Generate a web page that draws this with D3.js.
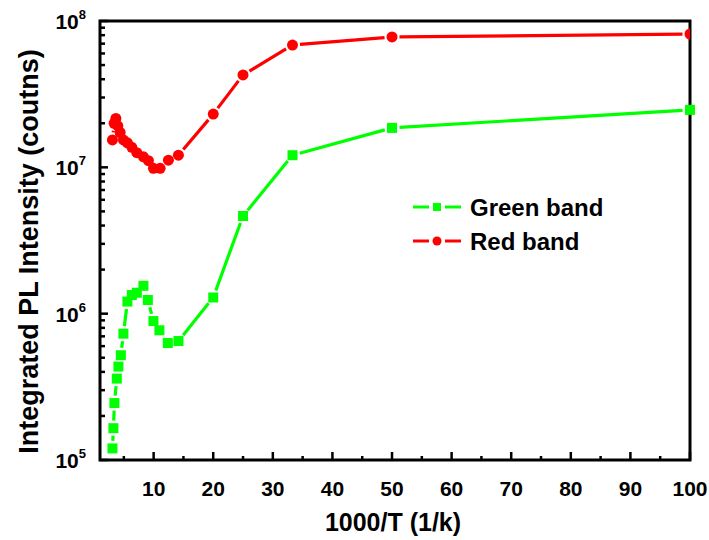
<!DOCTYPE html>
<html>
<head>
<meta charset="utf-8">
<script src="https://cdn.jsdelivr.net/npm/d3@7"></script>
<style>
  body { margin: 0; background: #fff; }
  text { font-family: "Liberation Sans", Arial, sans-serif; font-weight: bold; fill: #000; }
</style>
</head>
<body>
<div id="chart"></div>
<script>
// 1000/T values and integrated intensities for both emission bands
const greenX = [3.09, 3.25, 3.42, 3.82, 4.09, 4.5, 4.93, 5.6, 6.34, 7.18, 8.29, 9.03, 9.97, 10.97, 12.38, 14.16, 20, 25, 33.3, 50, 100];
const greenY = [1.2e5, 1.65e5, 2.45e5, 3.6e5, 4.35e5, 5.2e5, 7.3e5, 1.21e6, 1.34e6, 1.39e6, 1.55e6, 1.24e6, 8.9e5, 7.7e5, 6.3e5, 6.5e5, 1.29e6, 4.65e6, 1.21e7, 1.86e7, 2.47e7];

const redX = [3.09, 3.37, 3.66, 3.99, 4.38, 4.93, 5.6, 6.34, 7.18, 8.29, 9.13, 9.97, 11.09, 12.48, 14.16, 20, 25, 33.3, 50, 100];
const redY = [1.54e7, 2.0e7, 2.16e7, 1.92e7, 1.73e7, 1.54e7, 1.47e7, 1.37e7, 1.26e7, 1.18e7, 1.11e7, 9.85e6, 9.85e6, 1.12e7, 1.21e7, 2.31e7, 4.28e7, 6.85e7, 7.78e7, 8.15e7];

const xTicks = [10, 20, 30, 40, 50, 60, 70, 80, 90, 100];
const yTicks = [1e5, 1e6, 1e7, 1e8];

const width = 709, height = 540;
const m = { left: 100, right: 690, top: 21, bottom: 460 };

const svg = d3.select("#chart").append("svg")
    .attr("width", width)
    .attr("height", height);

const x = d3.scaleLinear().domain([1, 100]).range([m.left, m.right]);
const y = d3.scaleLog().domain([1e5, 1e8]).range([m.bottom, m.top]);

// bottom axis: major ticks every 10, minor every 5, all pointing inward
const xMinor = d3.range(5, 100, 10);
svg.append("g").selectAll("line")
    .data(xTicks).enter().append("line")
    .attr("x1", d => x(d)).attr("x2", d => x(d))
    .attr("y1", m.bottom).attr("y2", m.bottom - 8)
    .attr("stroke", "#000").attr("stroke-width", 2.5);
svg.append("g").selectAll("line")
    .data(xMinor).enter().append("line")
    .attr("x1", d => x(d)).attr("x2", d => x(d))
    .attr("y1", m.bottom).attr("y2", m.bottom - 4)
    .attr("stroke", "#000").attr("stroke-width", 2.5);
svg.append("g").selectAll("text")
    .data(xTicks).enter().append("text")
    .attr("x", d => x(d)).attr("y", m.bottom + 36)
    .attr("text-anchor", "middle")
    .style("font-size", "21px")
    .text(d => d);

// left axis: decades plus 2..9 minor ticks
const yMinor = [];
[1e5, 1e6, 1e7].forEach(dec => {
    for (let k = 2; k <= 9; k++) yMinor.push(dec * k);
});
svg.append("g").selectAll("line")
    .data(yTicks).enter().append("line")
    .attr("x1", m.left).attr("x2", m.left + 8)
    .attr("y1", d => y(d)).attr("y2", d => y(d))
    .attr("stroke", "#000").attr("stroke-width", 2.5);
svg.append("g").selectAll("line")
    .data(yMinor).enter().append("line")
    .attr("x1", m.left).attr("x2", m.left + 5)
    .attr("y1", d => y(d)).attr("y2", d => y(d))
    .attr("stroke", "#000").attr("stroke-width", 2.5);

const yLab = svg.append("g").selectAll("text")
    .data(yTicks).enter().append("text")
    .attr("x", m.left - 14).attr("y", d => y(d) + 8)
    .attr("text-anchor", "end")
    .style("font-size", "21px");
yLab.append("tspan").text("10");
yLab.append("tspan")
    .attr("dy", -10)
    .style("font-size", "13px")
    .text(d => Math.round(Math.log10(d)));

// frame
svg.append("rect")
    .attr("x", m.left).attr("y", m.top)
    .attr("width", m.right - m.left).attr("height", m.bottom - m.top)
    .attr("fill", "none").attr("stroke", "#000").attr("stroke-width", 3);

// axis titles
svg.append("text")
    .attr("x", (m.left + m.right) / 2 - 2).attr("y", 531)
    .attr("text-anchor", "middle")
    .style("font-size", "25px")
    .text("1000/T (1/k)");
svg.append("text")
    .attr("transform", `translate(38, ${(m.top + m.bottom) / 2 + 11}) rotate(-90)`)
    .attr("text-anchor", "middle")
    .style("font-size", "27px")
    .text("Integrated PL Intensity (coutns)");

// line segments stop short of each symbol, leaving a small gap
function drawSeries(xs, ys, color, gap) {
    const pts = xs.map((v, i) => [x(v), y(ys[i])]);
    const segs = [];
    for (let i = 0; i < pts.length - 1; i++) {
        const [x0, y0] = pts[i], [x1, y1] = pts[i + 1];
        const len = Math.hypot(x1 - x0, y1 - y0);
        if (len <= 2 * gap) continue;
        const ux = (x1 - x0) / len, uy = (y1 - y0) / len;
        segs.push([x0 + ux * gap, y0 + uy * gap, x1 - ux * gap, y1 - uy * gap]);
    }
    const g = svg.append("g");
    g.selectAll("line").data(segs).enter().append("line")
        .attr("x1", d => d[0]).attr("y1", d => d[1])
        .attr("x2", d => d[2]).attr("y2", d => d[3])
        .attr("stroke", color).attr("stroke-width", 3.2);
    return { g, pts };
}

svg.append("clipPath").attr("id", "plotclip")
    .append("rect").attr("x", m.left - 10).attr("y", m.top)
    .attr("width", m.right - m.left + 10).attr("height", m.bottom - m.top);

const green = drawSeries(greenX, greenY, "#00ff00", 7.5);
green.g.selectAll("rect").data(green.pts).enter().append("rect")
    .attr("x", d => d[0] - 5).attr("y", d => d[1] - 5)
    .attr("width", 10).attr("height", 10)
    .attr("fill", "#00ff00");

const red = drawSeries(redX, redY, "#ff0000", 7.5);
red.g.attr("clip-path", "url(#plotclip)");
red.g.selectAll("circle").data(red.pts).enter().append("circle")
    .attr("cx", d => d[0]).attr("cy", d => d[1])
    .attr("r", 5.5)
    .attr("fill", "#ff0000");

// legend
const legend = [
    { label: "Green band", color: "#00ff00", shape: "square" },
    { label: "Red band", color: "#ff0000", shape: "circle" }
];
const lg = svg.append("g").selectAll("g")
    .data(legend).enter().append("g")
    .attr("transform", (d, i) => `translate(413, ${207 + i * 34})`);
lg.append("line").attr("x1", 0).attr("x2", 16).attr("stroke", d => d.color).attr("stroke-width", 3);
lg.append("line").attr("x1", 32).attr("x2", 48).attr("stroke", d => d.color).attr("stroke-width", 3);
lg.filter(d => d.shape === "square").append("rect")
    .attr("x", 20).attr("y", -4).attr("width", 8).attr("height", 8)
    .attr("fill", d => d.color);
lg.filter(d => d.shape === "circle").append("circle")
    .attr("cx", 24).attr("r", 4.5)
    .attr("fill", d => d.color);
lg.append("text")
    .attr("x", 57).attr("y", 9)
    .style("font-size", "24px")
    .text(d => d.label);
</script>
</body>
</html>
